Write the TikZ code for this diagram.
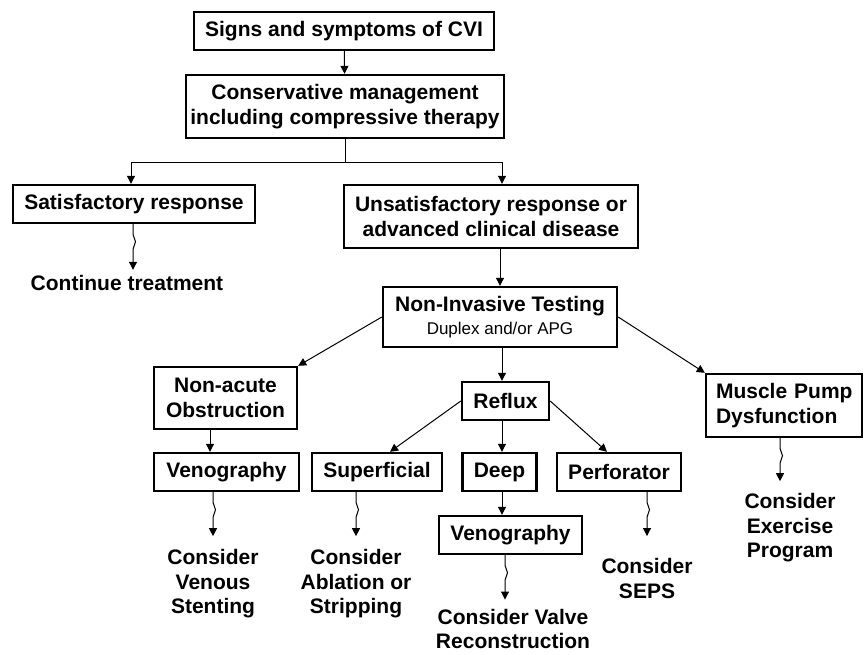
\documentclass[tikz,border=0pt]{standalone}
\usepackage{fontspec}
\setmainfont{Liberation Sans}
\usetikzlibrary{arrows.meta,decorations.pathmorphing}

\begin{document}
\begin{tikzpicture}[x=1pt,y=-1pt,line width=1pt]
    \tikzstyle{box}=[draw=black,line width=2.4pt,font=\bfseries\fontsize{21}{24.5}\selectfont,align=center,inner sep=0pt,minimum height=38pt]
    \tikzstyle{note}=[font=\bfseries\fontsize{21}{24.5}\selectfont,align=center,inner sep=1pt]
    \tikzstyle{arr}=[-{Triangle[width=8pt,length=8pt]},line width=1pt]
    \tikzstyle{wavy}=[arr,decorate,decoration={snake,amplitude=2.5pt,segment length=24pt,pre length=10pt,post length=13pt}]
    \useasboundingbox (0,0) rectangle (865,654);

    \foreach \name/\x/\y/\w/\txt in {signs/344/31/300/Signs and symptoms of CVI,
            sat/134/204/242/Satisfactory response, ven1/226.5/472/145/Venography,
            sup/377/472/130/Superficial, reflux/505.5/401/87/Reflux, deep/499.5/472/74/Deep,
            perf/619/472/124/Perforator, ven2/510.5/535/143/Venography}
        \node[box,minimum width=\w pt] (\name) at (\x,\y) {\txt};

    \node[box,minimum width=318pt,minimum height=63pt] (cons) at (345,106.5) {Conservative management\\including compressive therapy};
    \node[box,minimum width=294pt,minimum height=63pt] (unsat) at (491,216.5) {Unsatisfactory response or\\advanced clinical disease};
    \node[box,minimum width=234pt,minimum height=60pt] (nit) at (500,317) {Non-Invasive Testing\\[-1.5pt]{\mdseries\fontsize{17}{20}\selectfont Duplex and/or APG}};
    \node[box,minimum width=143pt,minimum height=62pt] (obst) at (225.5,398) {Non-acute\\Obstruction};
    \node[box,text width=144pt,inner xsep=6pt,align=left,minimum height=63pt] (pump) at (784,405.5) {\hspace*{4pt}Muscle Pump\\\hspace*{4pt}Dysfunction};

    \node[note] (cont) at (127,283) {Continue treatment};
    \node[note] (stent) at (213,584) {Consider\\Venous\\Stenting};
    \node[note] (ablate) at (356,584) {Consider\\Ablation or\\Stripping};
    \node[note] (valve) at (513,629) {Consider Valve\\Reconstruction};
    \node[note] (seps) at (647,578.5) {Consider\\SEPS};
    \node[note] (exer) at (790,528) {Consider\\Exercise\\Program};

    \coordinate (fork) at (345,162);
    \draw[arr] (signs) -- (cons);
    \draw (cons.south) -- (fork);
    \draw[arr] (fork) -| (sat.north -| 131,0);
    \draw[arr] (fork) -| (unsat.north -| 502,0);
    \draw[arr] (unsat.south -| nit) -- (nit);
    \draw[arr] (nit.west) -- (obst.north east);
    \draw[arr] (nit.south -| 502,0) -- (reflux.north -| 502,0);
    \draw[arr] (nit.east) -- (pump.north west);
    \draw[arr] (obst.south -| 210,0) -- (ven1.north -| 210,0);
    \draw[arr] (reflux.west) -- (sup.north -| 390,0);
    \draw[arr] (reflux.south -| 502,0) -- (deep.north -| 502,0);
    \draw[arr] (reflux.east) -- (perf.north -| 607,0);
    \draw[arr] (deep.south -| 502,0) -- (ven2.north -| 502,0);

    % wavy arrows down to the advice
    \foreach \from/\to/\x/\gap in {sat/cont/133/4, ven1/stent/213/12, sup/ablate/356/12,
            ven2/valve/505/8, perf/seps/647/21, pump/exer/780/11}
        \draw[wavy] (\from.south -| \x,0) -- ([yshift=\gap pt]\to.north -| \x,0);
\end{tikzpicture}
\end{document}
